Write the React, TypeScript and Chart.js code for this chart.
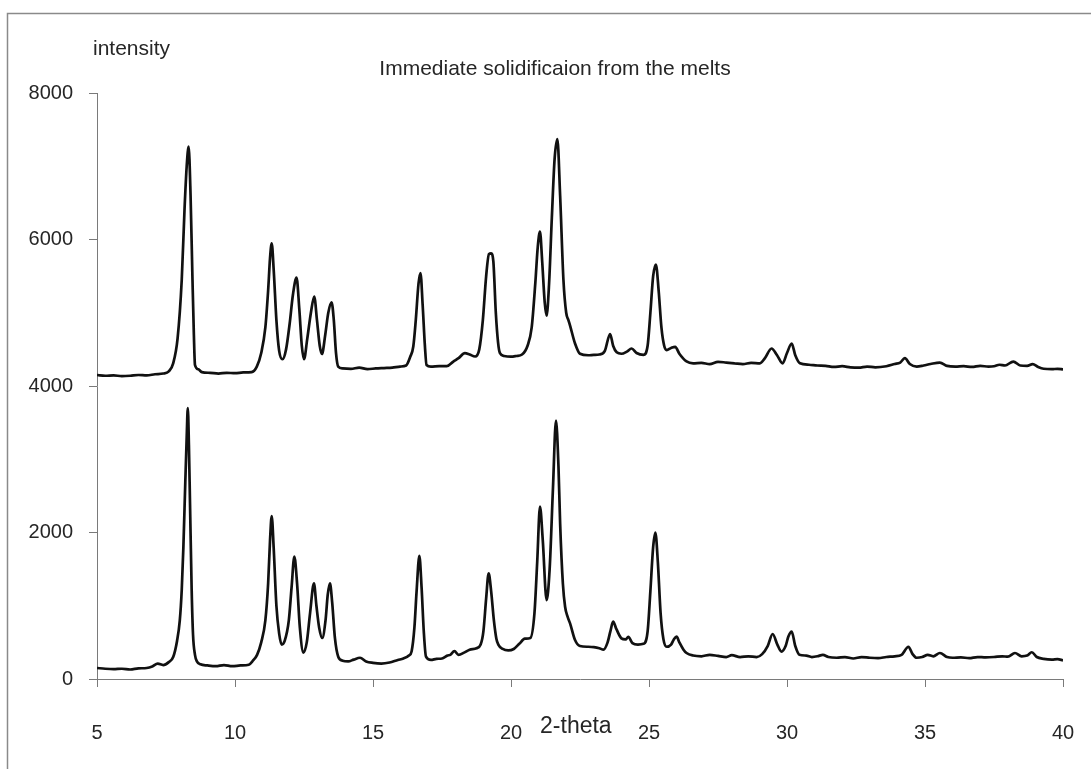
import React, { useEffect, useRef } from "react";
import { Chart, registerables } from "chart.js";

Chart.register(...registerables);

const chartTitle = "Immediate solidificaion from the melts";
const yAxisTitle = "intensity";
const xAxisTitle = "2-theta";
const xTicks = [5, 10, 15, 20, 25, 30, 35, 40];
const yTicks = [0, 2000, 4000, 6000, 8000];

const lowerTheta = [
  5.0, 5.3, 5.6, 5.9, 6.2, 6.5, 6.8, 7.0, 7.2, 7.4, 7.6, 7.76, 7.9, 8.0, 8.07, 8.13, 8.2, 8.25, 8.29, 8.33, 8.37, 8.43, 8.48, 8.55, 8.62, 8.75,
  9.0, 9.3, 9.6, 9.9, 10.2, 10.5, 10.65, 10.8, 10.95, 11.1, 11.2, 11.27, 11.33, 11.4, 11.5, 11.6, 11.69, 11.8, 11.95, 12.05, 12.15, 12.25,
  12.35, 12.48, 12.6, 12.72, 12.86, 12.95, 13.05, 13.16, 13.28, 13.36, 13.44, 13.52, 13.62, 13.74, 13.9, 14.1, 14.3, 14.53, 14.75, 15.0,
  15.3, 15.6, 15.9, 16.1, 16.3, 16.4, 16.5, 16.58, 16.68, 16.76, 16.84, 16.92, 17.1, 17.3, 17.5, 17.7, 17.8, 17.95, 18.1, 18.3, 18.5,
  18.75, 18.9, 19.0, 19.1, 19.19, 19.28, 19.38, 19.47, 19.54, 19.7, 19.9, 20.1, 20.3, 20.5, 20.7, 20.85, 20.95, 21.05, 21.15, 21.29,
  21.4, 21.52, 21.63, 21.72, 21.78, 21.88, 21.96, 22.05, 22.14, 22.32, 22.5, 22.8, 23.0, 23.2, 23.35, 23.5, 23.6, 23.7, 23.82, 24.0,
  24.15, 24.25, 24.4, 24.6, 24.8, 24.95, 25.05, 25.15, 25.23, 25.32, 25.42, 25.52, 25.64, 25.8, 25.9, 26.0, 26.1, 26.25, 26.36, 26.6,
  26.9, 27.2, 27.5, 27.8, 28.0, 28.3, 28.6, 28.9, 29.1, 29.3, 29.48, 29.65, 29.8, 29.95, 30.05, 30.17, 30.3, 30.45, 30.7, 30.9, 31.1,
  31.3, 31.5, 31.8, 32.1, 32.4, 32.7, 33.0, 33.3, 33.6, 33.9, 34.15, 34.4, 34.55, 34.7, 34.9, 35.1, 35.3, 35.54, 35.8, 36.0, 36.3,
  36.6, 36.9, 37.2, 37.5, 37.8, 38.0, 38.26, 38.5, 38.7, 38.87, 39.05, 39.3, 39.6, 39.8, 40.0,
];
const lowerIntensity = [
  150, 140, 135, 140, 130, 145, 150, 170, 210, 190, 230, 300, 520, 800, 1215, 1800, 2700, 3300, 3700, 3200, 2400, 1215, 600, 330, 240, 200,
  185, 175, 190, 175, 185, 195, 250, 330, 500, 800, 1300, 1900, 2225, 1800, 1000, 620, 470, 520, 800, 1250, 1670, 1300,
  700, 360, 500, 900, 1306, 1000, 700, 560, 800, 1150, 1306, 1050, 560, 305, 250, 240, 265, 290, 240, 220,
  210, 225, 260, 280, 320, 380, 700, 1200, 1680, 1250, 650, 305, 260, 275, 280, 320, 330, 380, 330, 360, 400,
  420, 470, 650, 1100, 1443, 1200, 800, 550, 470, 410, 390, 410, 480, 550, 560, 900, 1600, 2352, 1900, 1078,
  1500, 2600, 3527, 2900, 2125, 1300, 987, 850, 760, 532, 450, 440, 435, 420, 400, 500, 650, 782, 680, 555,
  540, 575, 490, 470, 480, 650, 1200, 1800, 2000, 1600, 900, 550, 440, 470, 540, 578, 500, 400, 355, 320,
  310, 330, 315, 300, 325, 300, 310, 300, 340, 450, 614, 470, 373, 450, 580, 646, 450, 330, 320, 300, 310,
  330, 300, 290, 300, 280, 300, 290, 285, 300, 310, 330, 440, 340, 290, 300, 330, 310, 355, 300, 290, 295,
  285, 300, 295, 300, 310, 305, 355, 310, 320, 365, 300, 275, 265, 270, 255,
];

const upperTheta = [
  5.0, 5.3, 5.6, 5.9, 6.2, 6.5, 6.8, 7.1, 7.4, 7.6, 7.76, 7.92, 8.07, 8.17, 8.25, 8.32, 8.39, 8.46, 8.51, 8.55, 8.67, 8.8, 9.1, 9.4, 9.7,
  10.0, 10.3, 10.6, 10.79, 10.95, 11.1, 11.2, 11.27, 11.33, 11.4, 11.5, 11.6, 11.72, 11.85, 11.98, 12.1, 12.23, 12.33, 12.42, 12.5,
  12.62, 12.75, 12.87, 12.97, 13.07, 13.15, 13.27, 13.38, 13.5, 13.58, 13.66, 13.74, 13.9, 14.2, 14.5, 14.8, 15.1, 15.4, 15.7, 15.98,
  16.2, 16.35, 16.46, 16.55, 16.65, 16.72, 16.8, 16.88, 16.94, 17.1, 17.4, 17.67, 17.91, 18.1, 18.33, 18.5, 18.7, 18.85, 18.98, 19.1,
  19.2, 19.28, 19.36, 19.45, 19.53, 19.6, 19.75, 20.0, 20.2, 20.4, 20.6, 20.75, 20.88, 20.97, 21.05, 21.13, 21.22, 21.29, 21.38, 21.48,
  21.58, 21.68, 21.78, 21.9, 22.0, 22.08, 22.14, 22.32, 22.5, 22.8, 23.0, 23.2, 23.4, 23.59, 23.7, 23.83, 24.0, 24.2, 24.37, 24.55,
  24.8, 24.95, 25.05, 25.15, 25.25, 25.35, 25.45, 25.55, 25.64, 25.8, 25.95, 26.1, 26.36, 26.6, 26.9, 27.2, 27.5, 27.8, 28.1, 28.4,
  28.7, 29.02, 29.2, 29.44, 29.64, 29.84, 30.0, 30.17, 30.3, 30.47, 30.8, 31.1, 31.4, 31.7, 32.0, 32.3, 32.6, 32.9, 33.2, 33.6, 33.9,
  34.1, 34.27, 34.45, 34.7, 34.95, 35.2, 35.54, 35.8, 36.1, 36.4, 36.7, 37.0, 37.3, 37.5, 37.7, 37.9, 38.2, 38.45, 38.7, 38.9, 39.1,
  39.3, 39.6, 39.8, 40.0,
];
const upperIntensity = [
  4150, 4140, 4145, 4135, 4140, 4150, 4145, 4160, 4170, 4200, 4310, 4650, 5447, 6400, 7000, 7267, 6600, 5447, 4700, 4287, 4228, 4190, 4180, 4170, 4180,
  4175, 4185, 4190, 4265, 4450, 4800, 5300, 5750, 5948, 5600, 4900, 4480, 4365, 4500, 4850, 5250, 5479, 5050, 4550, 4365,
  4650, 5000, 5222, 4900, 4550, 4437, 4700, 5000, 5142, 4900, 4450, 4265, 4240, 4235, 4250, 4230, 4240, 4245, 4250, 4265,
  4280, 4400, 4540, 4900, 5400, 5543, 5100, 4550, 4287, 4265, 4270, 4270, 4334, 4380, 4448, 4430, 4403, 4500, 4900, 5500,
  5800, 5811, 5700, 5000, 4600, 4448, 4410, 4400, 4410, 4430, 4550, 4800, 5400, 5900, 6107, 5700, 5150, 4961, 5400, 6300,
  7100, 7372, 6600, 5447, 5000, 4900, 4825, 4580, 4440, 4420, 4425, 4430, 4480, 4710, 4550, 4460, 4440, 4470, 4512, 4450,
  4425, 4550, 5000, 5500, 5658, 5300, 4800, 4550, 4490, 4520, 4535, 4440, 4335, 4310, 4315, 4300, 4330, 4320, 4310, 4300,
  4315, 4310, 4380, 4512, 4420, 4310, 4450, 4580, 4420, 4310, 4290, 4280, 4275, 4260, 4270, 4255, 4250, 4265, 4255, 4270, 4300,
  4320, 4380, 4300, 4265, 4280, 4300, 4320, 4275, 4265, 4270, 4260, 4275, 4265, 4270, 4290, 4280, 4334, 4280, 4275, 4300, 4260,
  4235, 4230, 4235, 4228,
];

const FONT = "'Liberation Sans', Arial, Helvetica, sans-serif";
const TEXT = "#262626";
const AXIS = "#7a7a7a";

const toPoints = (xs: number[], ys: number[]) => xs.map((x, i) => ({ x, y: ys[i] }));

const decorPlugin = {
  id: "decor",
  beforeDraw(chart: any) {
    const { ctx } = chart;
    ctx.save();
    ctx.fillStyle = "#ffffff";
    ctx.fillRect(0, 0, chart.width, chart.height);
    ctx.strokeStyle = "#8a8a8a";
    ctx.lineWidth = 1.5;
    ctx.strokeRect(7.5, 13.5, chart.width + 20, chart.height + 20);
    ctx.restore();
  },
  afterDraw(chart: any) {
    const { ctx, scales } = chart;
    ctx.save();
    ctx.fillStyle = TEXT;
    ctx.textBaseline = "alphabetic";
    ctx.font = `21px ${FONT}`;
    ctx.textAlign = "center";
    ctx.fillText(chartTitle, 555, 75);
    ctx.textAlign = "left";
    ctx.fillText(yAxisTitle, 93, 55);
    ctx.font = `23px ${FONT}`;
    ctx.textAlign = "center";
    ctx.fillText(xAxisTitle, scales.x.getPixelForValue(22.35), 733);
    ctx.restore();
  },
};

const lineStyle = {
  borderColor: "#111111",
  borderWidth: 2.7,
  pointRadius: 0,
  cubicInterpolationMode: "monotone" as const,
  fill: false,
};

export default function App() {
  const ref = useRef<HTMLCanvasElement | null>(null);
  useEffect(() => {
    if (!ref.current) return;
    const chart = new Chart(ref.current, {
      type: "line",
      data: {
        datasets: [
          { label: "upper", data: toPoints(upperTheta, upperIntensity), ...lineStyle },
          { label: "lower", data: toPoints(lowerTheta, lowerIntensity), ...lineStyle },
        ],
      },
      options: {
        responsive: false,
        animation: false,
        devicePixelRatio: 1,
        layout: { padding: { left: 0, top: 93, right: 28, bottom: 0 } },
        plugins: { legend: { display: false }, tooltip: { enabled: false }, title: { display: false } },
        scales: {
          x: {
            type: "linear",
            min: 5,
            max: 40,
            afterFit: (s: any) => {
              s.height = 90;
              s.paddingLeft = 0;
              s.paddingRight = 0;
            },
            afterBuildTicks: (s: any) => {
              s.ticks = xTicks.map((v) => ({ value: v }));
            },
            ticks: { font: { family: FONT, size: 20 }, color: TEXT, padding: 34, maxRotation: 0, autoSkip: false, callback: (v: any) => String(v) },
            grid: { display: true, drawOnChartArea: false, drawTicks: true, tickLength: 8, color: AXIS, lineWidth: 1 },
            border: { display: true, color: AXIS, width: 1 },
          },
          y: {
            type: "linear",
            min: 0,
            max: 8000,
            afterFit: (s: any) => {
              s.width = 97;
              s.paddingTop = 0;
              s.paddingBottom = 0;
            },
            afterBuildTicks: (s: any) => {
              s.ticks = yTicks.map((v) => ({ value: v }));
            },
            ticks: { font: { family: FONT, size: 20 }, color: TEXT, padding: 16, autoSkip: false, callback: (v: any) => String(v) },
            grid: { display: true, drawOnChartArea: false, drawTicks: true, tickLength: 8, color: AXIS, lineWidth: 1 },
            border: { display: true, color: AXIS, width: 1 },
          },
        },
      },
      plugins: [decorPlugin],
    });
    return () => chart.destroy();
  }, []);
  return (
    <div style={{ position: "fixed", left: 0, top: 0, width: 1091, height: 769 }}>
      <canvas ref={ref} width={1091} height={769} style={{ display: "block", width: 1091, height: 769 }} />
    </div>
  );
}
